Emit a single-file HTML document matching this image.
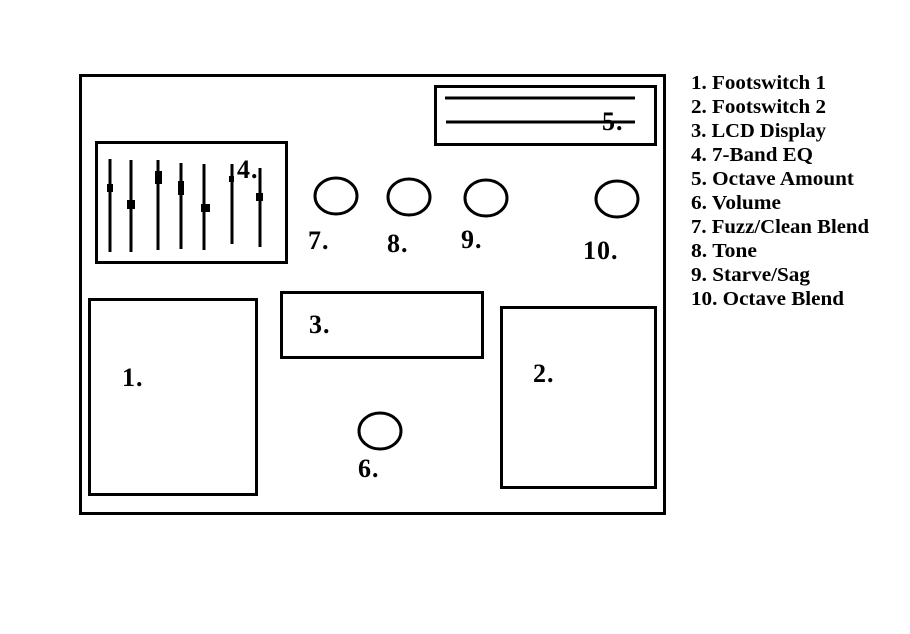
<!DOCTYPE html>
<html><head><meta charset="utf-8"><style>
html,body{margin:0;padding:0;background:#fff;width:910px;height:634px;overflow:hidden}
svg text{font-family:"Liberation Serif",serif;font-weight:bold;fill:#000}
</style></head><body>
<svg width="910" height="634" viewBox="0 0 910 634" xmlns="http://www.w3.org/2000/svg">
<g fill="none" stroke="#000" stroke-width="3">
<rect x="80.5" y="75.5" width="584" height="438"/>
<rect x="96.5" y="142.5" width="190" height="120"/>
<rect x="435.5" y="86.5" width="220" height="58"/>
<rect x="281.5" y="292.5" width="201" height="65"/>
<rect x="89.5" y="299.5" width="167" height="195"/>
<rect x="501.5" y="307.5" width="154" height="180"/>
<ellipse cx="336" cy="196" rx="21" ry="18"/>
<ellipse cx="409" cy="197" rx="21" ry="18"/>
<ellipse cx="486" cy="198" rx="21" ry="18"/>
<ellipse cx="617" cy="199" rx="21" ry="18"/>
<ellipse cx="380" cy="431" rx="21" ry="18"/>
<line x1="445" y1="98" x2="635" y2="98"/>
<line x1="446" y1="122" x2="635" y2="122"/>
<line x1="110" y1="159" x2="110" y2="252"/>
<line x1="131" y1="160" x2="131" y2="252"/>
<line x1="158" y1="160" x2="158" y2="250"/>
<line x1="181" y1="163" x2="181" y2="249"/>
<line x1="204" y1="164" x2="204" y2="250"/>
<line x1="232" y1="164" x2="232" y2="244"/>
<line x1="260" y1="168" x2="260" y2="247"/>
</g>
<g fill="#000">
<rect x="107" y="184" width="6" height="8"/>
<rect x="127" y="200" width="8" height="9"/>
<rect x="155" y="171" width="7" height="13"/>
<rect x="178" y="181" width="6" height="14"/>
<rect x="201" y="204" width="9" height="8"/>
<rect x="229" y="176" width="5" height="6"/>
<rect x="256" y="193" width="7" height="8"/>
</g>
<g font-size="26" letter-spacing="1">
<text x="237" y="178">4.</text>
<text x="602" y="130">5.</text>
<text x="308" y="249">7.</text>
<text x="387" y="252">8.</text>
<text x="461" y="248">9.</text>
<text x="583" y="259">10.</text>
<text x="309" y="333">3.</text>
<text x="122" y="386">1.</text>
<text x="533" y="382">2.</text>
<text x="358" y="477">6.</text>
</g>
<g font-size="20">
<text x="691" y="89" textLength="135" lengthAdjust="spacingAndGlyphs">1. Footswitch 1</text>
<text x="691" y="113" textLength="135" lengthAdjust="spacingAndGlyphs">2. Footswitch 2</text>
<text x="691" y="137" textLength="135" lengthAdjust="spacingAndGlyphs">3. LCD Display</text>
<text x="691" y="161" textLength="122" lengthAdjust="spacingAndGlyphs">4. 7-Band EQ</text>
<text x="691" y="185" textLength="163" lengthAdjust="spacingAndGlyphs">5. Octave Amount</text>
<text x="691" y="209" textLength="90" lengthAdjust="spacingAndGlyphs">6. Volume</text>
<text x="691" y="233" textLength="178" lengthAdjust="spacingAndGlyphs">7. Fuzz/Clean Blend</text>
<text x="691" y="257" textLength="66" lengthAdjust="spacingAndGlyphs">8. Tone</text>
<text x="691" y="281" textLength="119" lengthAdjust="spacingAndGlyphs">9. Starve/Sag</text>
<text x="691" y="305" textLength="153" lengthAdjust="spacingAndGlyphs">10. Octave Blend</text>
</g>
</svg>
</body></html>
